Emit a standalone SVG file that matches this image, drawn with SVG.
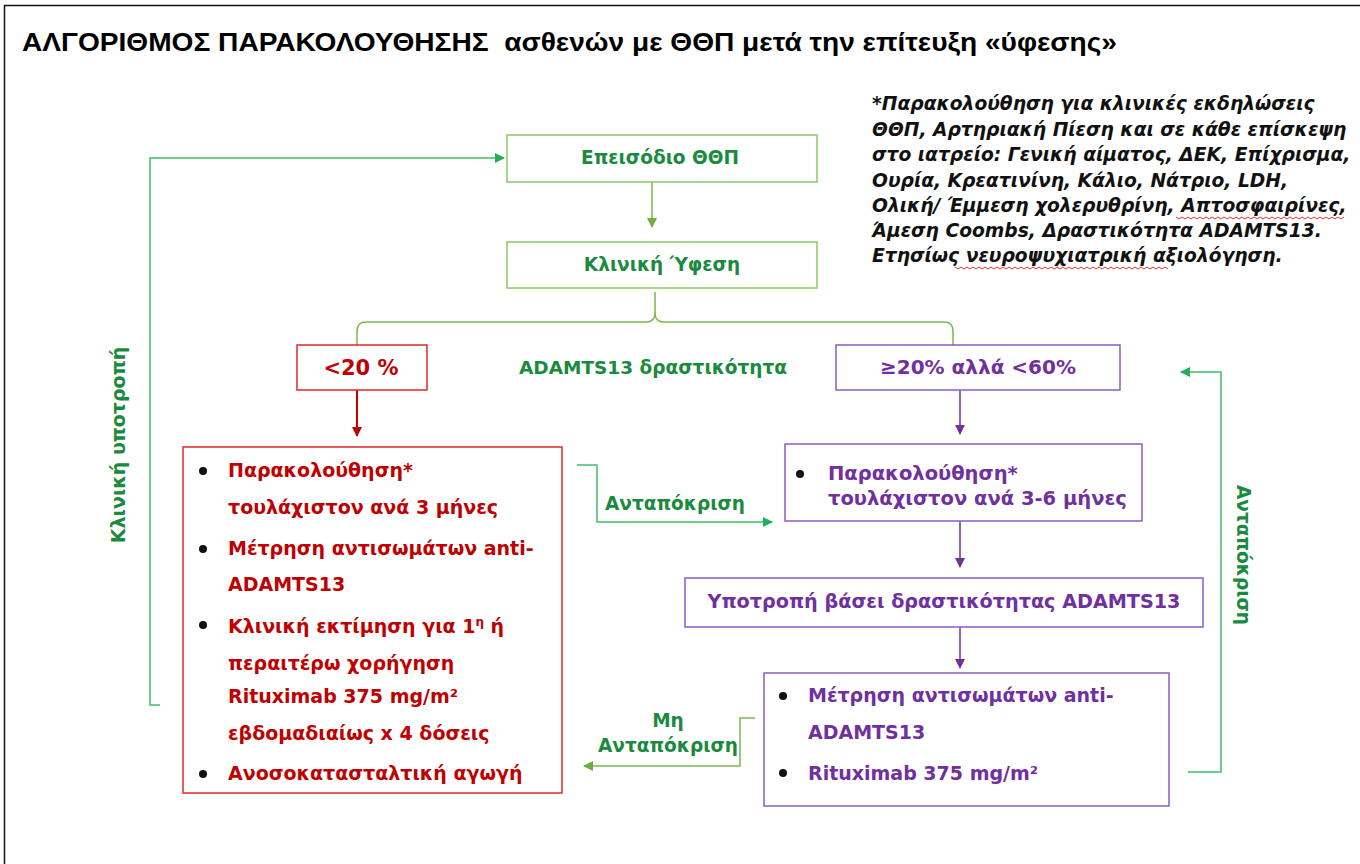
<svg xmlns="http://www.w3.org/2000/svg" width="1360" height="864" viewBox="0 0 1360 864">
<defs>
<style>
.t{font-family:"DejaVu Sans","Verdana",sans-serif;font-weight:bold}
.g{fill:#1a8a3e}
.r{fill:#c00000}
.p{fill:#7030a0}
.k{fill:#111}
.bg{fill:#fff;stroke:#8cc864;stroke-width:1.5}
.br{fill:#fff;stroke:#e02828;stroke-width:1.5}
.bp{fill:#fff;stroke:#8a5cc0;stroke-width:1.5}
.cg{fill:none;stroke:#3cc06a;stroke-width:1.5}
.cl{fill:none;stroke:#7ab84e;stroke-width:1.5}
.sq{fill:none;stroke:#e03030;stroke-width:1}
.fn{font-family:"DejaVu Sans","Verdana",sans-serif;font-weight:bold;font-style:italic;font-size:18.7px;fill:#111}
</style>
<marker id="ag" viewBox="0 0 10 10" refX="9" refY="5" markerWidth="10" markerHeight="10" markerUnits="userSpaceOnUse" orient="auto"><path d="M0,0L10,5L0,10z" fill="#1fb055"/></marker>
<marker id="al" viewBox="0 0 10 10" refX="9" refY="5" markerWidth="10" markerHeight="10" markerUnits="userSpaceOnUse" orient="auto"><path d="M0,0L10,5L0,10z" fill="#6aaf3f"/></marker>
<marker id="ar" viewBox="0 0 10 10" refX="9" refY="5" markerWidth="10" markerHeight="10" markerUnits="userSpaceOnUse" orient="auto"><path d="M0,0L10,5L0,10z" fill="#c00000"/></marker>
<marker id="ap" viewBox="0 0 10 10" refX="9" refY="5" markerWidth="10" markerHeight="10" markerUnits="userSpaceOnUse" orient="auto"><path d="M0,0L10,5L0,10z" fill="#7030a0"/></marker>
</defs>
<rect width="1360" height="864" fill="#fff"/>
<path d="M4.5,864V5.5H1360" fill="none" stroke="#111" stroke-width="1.5"/>

<text x="22" y="51" font-family="Liberation Sans, Arial, sans-serif" font-weight="bold" font-size="25" fill="#000" textLength="1095" lengthAdjust="spacingAndGlyphs" xml:space="preserve">ΑΛΓΟΡΙΘΜΟΣ ΠΑΡΑΚΟΛΟΥΘΗΣΗΣ  ασθενών με ΘΘΠ μετά την επίτευξη «ύφεσης»</text>

<g id="footnote">
<text class="fn" x="872" y="110">*Παρακολούθηση για κλινικές εκδηλώσεις</text>
<text class="fn" x="872" y="136">ΘΘΠ, Αρτηριακή Πίεση και σε κάθε επίσκεψη</text>
<text class="fn" x="872" y="161">στο ιατρείο: Γενική αίματος, ΔΕΚ, Επίχρισμα,</text>
<text class="fn" x="872" y="187">Ουρία, Κρεατινίνη, Κάλιο, Νάτριο, LDH,</text>
<text class="fn" x="872" y="212">Ολική/ Έμμεση χολερυθρίνη, Απτοσφαιρίνες,</text>
<text class="fn" x="872" y="237">Άμεση Coombs, Δραστικότητα ADAMTS13.</text>
<text class="fn" x="872" y="262">Ετησίως νευροψυχιατρική αξιολόγηση.</text>
<path class="sq" d="M1176,217l3,2l3,-2l3,2l3,-2l3,2l3,-2l3,2l3,-2l3,2l3,-2l3,2l3,-2l3,2l3,-2l3,2l3,-2l3,2l3,-2l3,2l3,-2l3,2l3,-2l3,2l3,-2l3,2l3,-2l3,2l3,-2l3,2l3,-2l3,2l3,-2l3,2l3,-2l3,2l3,-2l3,2l3,-2l3,2l3,-2l3,2l3,-2l3,2l3,-2l3,2l3,-2l3,2l3,-2l3,2l3,-2l3,2l3,-2l3,2l3,-2l3,2l3,-2"/>
<path class="sq" d="M955,267l3,2l3,-2l3,2l3,-2l3,2l3,-2l3,2l3,-2l3,2l3,-2l3,2l3,-2l3,2l3,-2l3,2l3,-2l3,2l3,-2l3,2l3,-2l3,2l3,-2l3,2l3,-2l3,2l3,-2l3,2l3,-2l3,2l3,-2l3,2l3,-2l3,2l3,-2l3,2l3,-2l3,2l3,-2l3,2l3,-2l3,2l3,-2l3,2l3,-2l3,2l3,-2l3,2l3,-2l3,2l3,-2l3,2l3,-2l3,2l3,-2l3,2l3,-2l3,2l3,-2l3,2l3,-2l3,2l3,-2l3,2l3,-2l3,2l3,-2l3,2l3,-2l3,2l3,-2l3,2"/>
</g>

<g id="connectors">
<path class="cl" d="M652,182V227" marker-end="url(#al)"/>
<path class="cl" d="M357,345V331Q357,322 366,322H646Q655,322 655,313V292M655,313Q655,322 664,322H944Q953,322 953,331V345"/>
<path d="M357,390V436" fill="none" stroke="#c00000" stroke-width="2" marker-end="url(#ar)"/>
<path d="M960,390V434" fill="none" stroke="#7030a0" stroke-width="1.5" marker-end="url(#ap)"/>
<path d="M960,521V567" fill="none" stroke="#7030a0" stroke-width="1.5" marker-end="url(#ap)"/>
<path d="M960,627V668" fill="none" stroke="#7030a0" stroke-width="1.5" marker-end="url(#ap)"/>
<path class="cg" d="M577,465H597V522H772" marker-end="url(#ag)"/>
<path class="cl" d="M755,718H740V766H584" marker-end="url(#al)"/>
<path class="cg" d="M1188,772H1221V372H1181" marker-end="url(#ag)" stroke="#7fd89a"/>
<path class="cg" d="M160,705H150V158H504" marker-end="url(#ag)"/>
<text class="t g" x="675" y="510" font-size="18.5" text-anchor="middle">Ανταπόκριση</text>
<text class="t g" x="668" y="727" font-size="18.5" text-anchor="middle">Μη</text>
<text class="t g" x="668" y="752" font-size="18.5" text-anchor="middle">Ανταπόκριση</text>
<text class="t g" transform="translate(1237,555) rotate(90)" font-size="18.5" text-anchor="middle">Ανταπόκριση</text>
<text class="t g" transform="translate(125,445) rotate(-90)" font-size="19" text-anchor="middle">Κλινική υποτροπή</text>
</g>

<g id="n-episode">
<rect class="bg" x="507" y="135" width="310" height="47"/>
<text class="t g" x="660" y="164" font-size="18.5" text-anchor="middle">Επεισόδιο ΘΘΠ</text>
</g>
<g id="n-remission">
<rect class="bg" x="507" y="242" width="310" height="46"/>
<text class="t g" x="662" y="271" font-size="18.5" text-anchor="middle">Κλινική Ύφεση</text>
</g>
<g id="n-label">
<text class="t g" x="653" y="374" font-size="18.5" text-anchor="middle">ADAMTS13 δραστικότητα</text>
</g>
<g id="n-low">
<rect class="br" x="297" y="345" width="130" height="45"/>
<text class="t r" x="361" y="375" font-size="21" text-anchor="middle">&lt;20 %</text>
</g>
<g id="n-mid">
<rect class="bp" x="836" y="345" width="284" height="45"/>
<text class="t p" x="978" y="374" font-size="20" text-anchor="middle">≥20% αλλά &lt;60%</text>
</g>
<g id="n-red">
<rect class="br" x="183" y="447" width="379" height="346"/>
<g class="k"><circle cx="203" cy="471" r="4"/><circle cx="203" cy="549" r="4"/><circle cx="203" cy="625" r="4"/><circle cx="203" cy="774" r="4"/></g>
<g class="t r" font-size="19">
<text x="228" y="477">Παρακολούθηση*</text>
<text x="228" y="514">τουλάχιστον ανά 3 μήνες</text>
<text x="228" y="555">Μέτρηση αντισωμάτων anti-</text>
<text x="228" y="591">ADAMTS13</text>
<text x="228" y="633">Κλινική εκτίμηση για 1<tspan font-size="12" dy="-7">η</tspan><tspan dy="7"> ή</tspan></text>
<text x="228" y="670">περαιτέρω χορήγηση</text>
<text x="228" y="703">Rituximab 375 mg/m²</text>
<text x="228" y="740">εβδομαδιαίως x 4 δόσεις</text>
<text x="228" y="780">Ανοσοκατασταλτική αγωγή</text>
</g>
</g>
<g id="n-monitor">
<rect class="bp" x="785" y="444" width="357" height="77"/>
<circle class="k" cx="800" cy="474" r="4"/>
<text class="t p" x="828" y="480" font-size="19.5">Παρακολούθηση*</text>
<text class="t p" x="828" y="505" font-size="19.5">τουλάχιστον ανά 3-6 μήνες</text>
</g>
<g id="n-relapse">
<rect class="bp" x="685" y="578" width="518" height="49"/>
<text class="t p" x="944" y="608" font-size="19.2" text-anchor="middle">Υποτροπή βάσει δραστικότητας ADAMTS13</text>
</g>
<g id="n-rituximab">
<rect class="bp" x="764" y="673" width="405" height="133"/>
<circle class="k" cx="783" cy="696" r="4"/>
<circle class="k" cx="783" cy="773" r="4"/>
<text class="t p" x="808" y="702" font-size="19">Μέτρηση αντισωμάτων anti-</text>
<text class="t p" x="808" y="739" font-size="19">ADAMTS13</text>
<text class="t p" x="808" y="780" font-size="19">Rituximab 375 mg/m²</text>
</g>
</svg>
